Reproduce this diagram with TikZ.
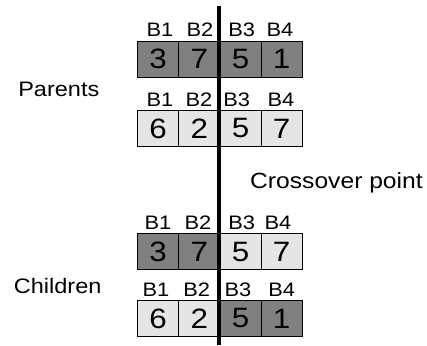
\documentclass[tikz,border=0pt]{standalone}
\usepackage{fontspec}
\setmainfont{Liberation Sans}[FakeStretch=1.12]
\definecolor{darkcell}{gray}{0.50}
\definecolor{lightcell}{gray}{0.90}
\begin{document}
\begin{tikzpicture}[x=1pt,y=-1pt,
  cell/.style={draw=black, line width=0.8pt, minimum width=41.2pt,
    minimum height=36pt, inner sep=0pt, font=\fontsize{28}{28}\selectfont},
  dark/.style={cell, fill=darkcell},
  light/.style={cell, fill=lightcell},
  blabel/.style={anchor=base, inner sep=0pt, font=\fontsize{19.5}{19.5}\selectfont},
  side/.style={anchor=base, inner sep=0pt, font=\fontsize{21}{21}\selectfont},
  cut/.style={line width=3.5pt}]
\useasboundingbox (0,0) rectangle (427,345);

% first parent
\node[dark]  (p1a) at (158.1,59.2) {3};
\node[dark]  (p1b) at (199.3,59.2) {7};
\node[dark]  (p1c) at (240.5,59.2) {5};
\node[dark]  (p1d) at (281.7,59.2) {1};
\node[blabel] (lp1a) at (160,37) {B1};
\node[blabel] (lp1b) at (200,37) {B2};
\node[blabel] (lp1c) at (241.7,37) {B3};
\node[blabel] (lp1d) at (280,37) {B4};

% second parent
\node[light] (p2a) at (158.1,128.4) {6};
\node[light] (p2b) at (199.3,128.4) {2};
\node[light] (p2c) at (240.5,128.4) {5};
\node[light] (p2d) at (281.7,128.4) {7};
\node[blabel] (lp2a) at (160,106.3) {B1};
\node[blabel] (lp2b) at (199,106.3) {B2};
\node[blabel] (lp2c) at (236.7,106.3) {B3};
\node[blabel] (lp2d) at (281,106.3) {B4};

% first child
\node[dark]  (c1a) at (158.1,251.7) {3};
\node[dark]  (c1b) at (199.3,251.7) {7};
\node[light] (c1c) at (240.5,251.7) {5};
\node[light] (c1d) at (281.7,251.7) {7};
\node[blabel] (lc1a) at (158,229.8) {B1};
\node[blabel] (lc1b) at (198,229.8) {B2};
\node[blabel] (lc1c) at (241.7,229.8) {B3};
\node[blabel] (lc1d) at (278,229.8) {B4};

% second child
\node[light] (c2a) at (158.1,318.4) {6};
\node[light] (c2b) at (199.3,318.4) {2};
\node[dark]  (c2c) at (240.5,318.4) {5};
\node[dark]  (c2d) at (281.7,318.4) {1};
\node[blabel] (lc2a) at (156,296.3) {B1};
\node[blabel] (lc2b) at (196.7,296.3) {B2};
\node[blabel] (lc2c) at (238,296.3) {B3};
\node[blabel] (lc2d) at (281.7,296.3) {B4};

% side captions
\node[side] (parents)  at (58.8,96.7) {Parents};
\node[side] (children) at (57.7,293) {Children};
\node[side, anchor=base west, font=\fontsize{22}{22}\selectfont]
  (xlabel) at (250,188.3) {Crossover point};

% crossover cut
\coordinate (cuttop) at (219,6.5);
\coordinate (cutbot) at (219,345);
\draw[cut] (cuttop) -- (cutbot);
\end{tikzpicture}
\end{document}
